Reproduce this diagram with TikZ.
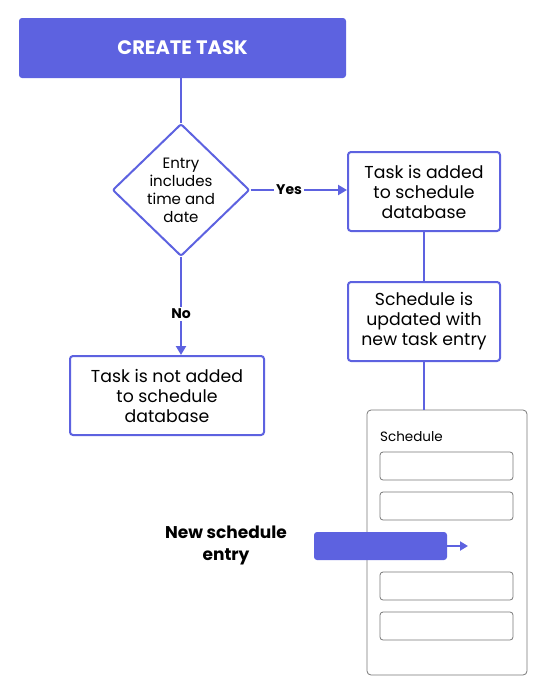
\documentclass[tikz,border=0pt]{standalone}
\usepackage{fontspec}
\setmainfont{Poppins}
\usetikzlibrary{arrows.meta,shapes.geometric}
\definecolor{pur}{RGB}{93,98,224}
\definecolor{gr}{RGB}{120,120,120}
\begin{document}
\begin{tikzpicture}[x=1pt,y=-1pt,
  box/.style={draw=pur,line width=2pt,rounded corners=3pt,fill=white,align=center,font=\fontsize{17.3}{20}\selectfont,inner sep=0pt},
  conn/.style={draw=pur,line width=2.5pt},
  arr/.style={conn,-{Triangle[length=9pt,width=10pt]}},
  lbl/.style={fill=white,font=\bfseries\fontsize{14}{16}\selectfont,inner sep=2pt},
  slot/.style={draw=gr,line width=0.8pt,rounded corners=3pt,minimum width=133pt,minimum height=28pt,inner sep=0pt}]
\useasboundingbox (0,0) rectangle (550,699);
\node[fill=pur,rounded corners=3pt,minimum width=327pt,minimum height=60pt,text=white,font=\bfseries\fontsize{19.5}{22}\selectfont] (create) at (182.5,48) {CREATE TASK};
\node[draw=pur,line width=2pt,diamond,minimum width=137pt,minimum height=132pt,inner sep=0pt,align=center,font=\fontsize{15}{18}\selectfont,rounded corners=2pt] (dec) at (181,190) {Entry\\includes\\time and\\date};
\node[box,minimum width=152pt,minimum height=79pt] (yes) at (424,191.5) {Task is added\\to schedule\\database};
\node[box,minimum width=152pt,minimum height=79pt] (upd) at (424,321.5) {Schedule is\\updated with\\new task entry};
\node[box,minimum width=194pt,minimum height=79pt] (no) at (167,395.5) {Task is not added\\to schedule\\database};
\node[draw=gr,line width=0.8pt,rounded corners=4pt,minimum width=160pt,minimum height=265pt,inner sep=0pt] (sched) at (447,542.5) {};
\node[anchor=west,font=\fontsize{13.5}{14}\selectfont,inner sep=0pt] (schedlbl) at (380,437) {Schedule};
\node[slot] (s1) at (446.5,466) {};
\node[slot] (s2) at (446.5,506) {};
\node[slot] (s3) at (446.5,586) {};
\node[slot] (s4) at (446.5,626) {};
\node[fill=pur,rounded corners=3pt,minimum width=133pt,minimum height=28pt,inner sep=0pt] (bar) at (380.5,546) {};
\coordinate (tip) at (468,546);
\node[align=center,font=\bfseries\fontsize{17}{22}\selectfont] (newlbl) at (226,545) {New schedule\\entry};
\draw[conn] (dec.north |- create.south) -- (dec.north);
\draw[arr] (dec.east) -- node[lbl,pos=0.40] {Yes} (dec.east -| yes.west);
\draw[arr] (dec.south) -- node[lbl,pos=0.58] {No} (no.north -| dec.south);
\draw[conn] (yes.south) -- (upd.north);
\draw[conn] (upd.south) -- (sched.north -| upd.south);
\draw[draw=pur,line width=2pt,-{Triangle[length=8pt,width=9pt]}] (bar.east) -- (tip);
\end{tikzpicture}
\end{document}
